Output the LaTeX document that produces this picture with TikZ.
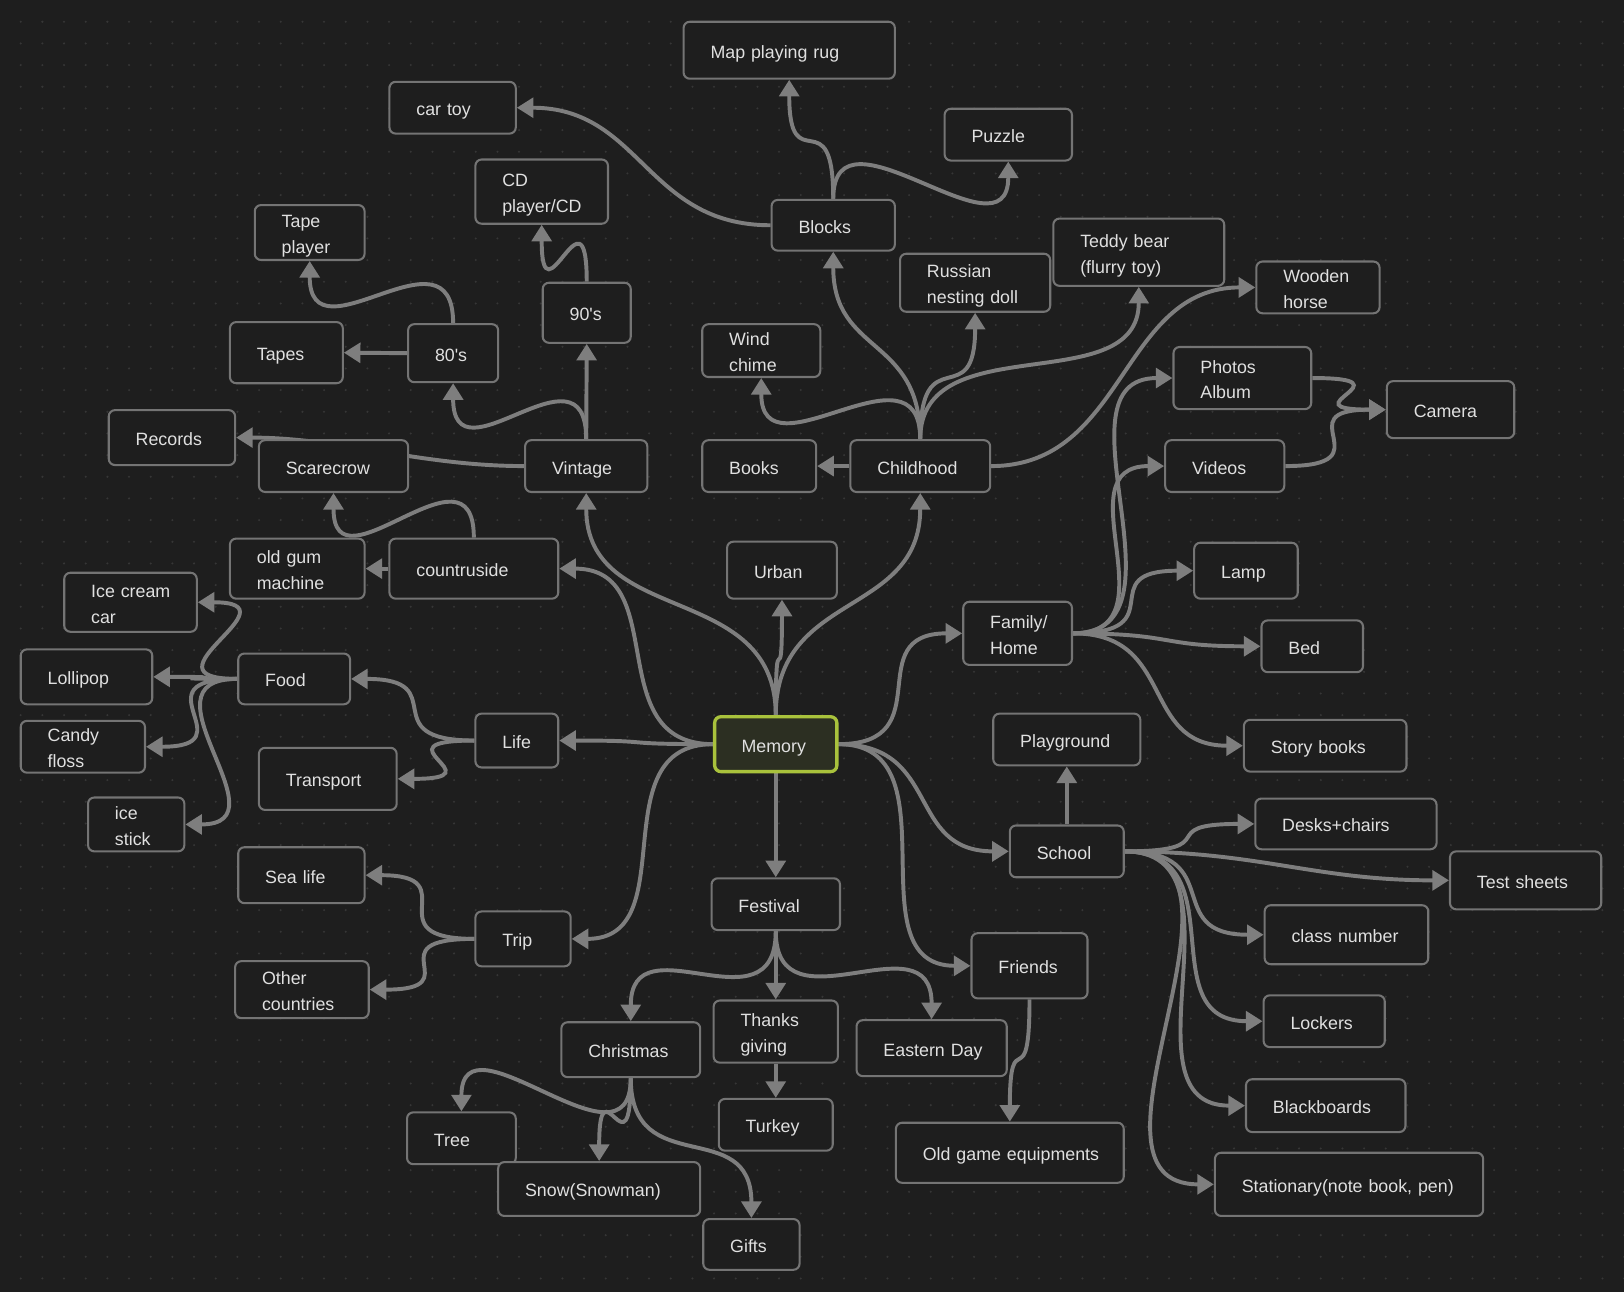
\documentclass[tikz,border=0pt]{standalone}
\usepackage{fontspec}
\setmainfont{Liberation Sans}[Ligatures=ResetAll]
\usetikzlibrary{arrows.meta}
\definecolor{bgc}{HTML}{1E1E1E}
\definecolor{dotc}{HTML}{363636}
\definecolor{boxc}{HTML}{747474}
\definecolor{edgec}{HTML}{7E7E7E}
\definecolor{txtc}{HTML}{E0E0E0}
\definecolor{memfill}{HTML}{2C2F22}
\definecolor{memdraw}{HTML}{A9C23C}
\pgfdeclarelayer{dots}
\pgfdeclarelayer{edges}
\pgfsetlayers{dots,edges,main}
\newcommand\mystrut{\rule[-2.4pt]{0pt}{12.5pt}}
\tikzset{
  box/.style={draw=boxc, fill=bgc, line width=1pt, rounded corners=3pt, text=txtc,
    align=left, inner xsep=13pt, inner ysep=0pt,
    font=\fontsize{8.6}{12.5}\selectfont,
    execute at begin node=\mystrut, execute at end node=\mystrut},
  e/.style={draw=edgec, line width=1.9pt, -{Triangle[length=8pt,width=9.5pt]}, distance=50pt},
}
\newlength\bxwl
\newlength\bxhl
\newcommand\bx[7][]{%
  \pgfmathsetlength\bxwl{(#5-#3)*0.5pt-26pt}%
  \pgfmathsetlength\bxhl{(#6-#4)*0.5pt}%
  \node[box,text width=\bxwl,minimum height=\bxhl,#1] (#2) at ({(#3+#5)/2},{(#4+#6)/2}) {#7};}
\hyphenpenalty=10000
\exhyphenpenalty=10000
\begin{document}
\begin{tikzpicture}[x=0.5pt,y=-0.5pt]
\useasboundingbox (0,0) rectangle (1568,1247);
\begin{pgfonlayer}{dots}
\fill[bgc] (0,0) rectangle (1568,1247);
\foreach \i in {0,...,74}{\foreach \j in {0,...,59}{\fill[dotc] ({20+20.92*\i},{21+20.92*\j}) circle (0.55pt);}}
\end{pgfonlayer}
% nodes
\bx{map}{660}{21}{864}{76}{Map~playing~rug}
\bx{cartoy}{376}{79}{498}{129}{car~toy}
\bx{puzzle}{912}{105}{1035}{155}{Puzzle}
\bx{cd}{459}{154}{587}{216}{CD\\player/CD}
\bx{blocks}{745}{193}{864}{242}{Blocks}
\bx{tapep}{246}{198}{352}{251}{Tape\\player}
\bx{teddy}{1017}{211}{1182}{276}{Teddy~bear\\(flurry~toy)}
\bx{russian}{869}{245}{1014}{301}{Russian\\nesting~doll}
\bx{wooden}{1213}{253}{1332}{302}{Wooden\\horse}
\bx{n90}{524}{273}{609}{331}{90\textquotesingle s}
\bx{n80}{394}{313}{481}{369}{80\textquotesingle s}
\bx{tapes}{222}{311}{331}{370}{Tapes}
\bx{wind}{678}{313}{792}{364}{Wind\\chime}
\bx{photos}{1133}{335}{1266}{395}{Photos\\Album}
\bx{camera}{1339}{368}{1462}{423}{Camera}
\bx{records}{105}{396}{227}{449}{Records}
\bx{scare}{250}{425}{394}{475}{Scarecrow}
\bx{vintage}{507}{425}{625}{475}{Vintage}
\bx{books}{678}{425}{788}{475}{Books}
\bx{child}{821}{425}{956}{475}{Childhood}
\bx{videos}{1125}{425}{1240}{475}{Videos}
\bx{gum}{222}{520}{352}{578}{old~gum\\machine}
\bx{country}{376}{520}{539}{578}{countruside}
\bx{urban}{702}{523}{808}{578}{Urban}
\bx{lamp}{1153}{524}{1253}{578}{Lamp}
\bx{icecream}{62}{553}{190}{610}{Ice~cream\\car}
\bx{family}{930}{581}{1035}{642}{Family/\\Home}
\bx{lolli}{20}{627}{147}{680}{Lollipop}
\bx{food}{230}{631}{338}{680}{Food}
\bx{bed}{1218}{599}{1316}{649}{Bed}
\bx{play}{959}{689}{1101}{739}{Playground}
\bx{life}{459}{689}{539}{741}{Life}
\bx[fill=memfill,draw=memdraw,line width=1.6pt]{mem}{690}{692}{808}{745}{Memory}
\bx{story}{1201}{695}{1358}{745}{Story~books}
\bx{candy}{20}{696}{140}{746}{Candy\\floss}
\bx{transport}{250}{722}{383}{782}{Transport}
\bx{icestick}{85}{770}{178}{822}{ice\\stick}
\bx{desks}{1212}{771}{1387}{820}{Desks+chairs}
\bx{school}{975}{797}{1085}{847}{School}
\bx{test}{1400}{822}{1546}{878}{Test~sheets}
\bx{sealife}{230}{818}{352}{872}{Sea~life}
\bx{festival}{687}{848}{811}{898}{Festival}
\bx{trip}{459}{880}{551}{933}{Trip}
\bx{classn}{1221}{874}{1379}{931}{class~number}
\bx{friends}{938}{901}{1050}{964}{Friends}
\bx{other}{227}{928}{356}{983}{Other\\countries}
\bx{thanks}{689}{966}{809}{1026}{Thanks\\giving}
\bx{lockers}{1220}{961}{1337}{1011}{Lockers}
\bx{eastern}{827}{985}{972}{1039}{Eastern~Day}
\bx{xmas}{542}{987}{676}{1040}{Christmas}
\bx{turkey}{694}{1061}{804}{1111}{Turkey}
\bx{black}{1203}{1042}{1357}{1093}{Blackboards}
\bx{tree}{393}{1074}{498}{1124}{Tree}
\bx{oldgame}{865}{1084}{1085}{1142}{Old~game~equipments}
\bx{station}{1173}{1113}{1432}{1174}{Stationary(note~book,~pen)}
\bx{snow}{481}{1122}{676}{1174}{Snow(Snowman)}
\bx{gifts}{679}{1177}{772}{1226}{Gifts}
% edges
\begin{pgfonlayer}{edges}
\draw[e] (mem.west) to[out=180,in=0] (life.east);
\draw[e,distance=55pt] (mem.west) to[out=180,in=0] (country.east);
\draw[e,distance=65pt] (mem.north) to[out=90,in=270] (vintage.south);
\draw[e,distance=55pt] (mem.west) to[out=180,in=0] (trip.east);
\draw[e] (mem.north) to[out=90,in=270] (urban.south);
\draw[e,distance=60pt] (mem.north) to[out=90,in=270] (child.south);
\draw[e] (mem.east) to[out=0,in=180] (family.west);
\draw[e] (mem.east) to[out=0,in=180] (school.west);
\draw[e,distance=58pt] (mem.east) to[out=0,in=180] (friends.west);
\draw[e] (mem.south) -- (festival.north);
\draw[e] (festival.south) to[out=270,in=90] (xmas.north);
\draw[e] (festival.south) -- (thanks.north);
\draw[e] (festival.south) to[out=270,in=90] (eastern.north);
\draw[e] (thanks.south) -- (turkey.north);
\draw[e] (xmas.south) to[out=270,in=90] (tree.north);
\draw[e] (xmas.south) to[out=270,in=90] (snow.north);
\draw[e] (xmas.south) to[out=270,in=90] (gifts.north);
\draw[e] (friends.south) to[out=270,in=90] (oldgame.north);
\draw[e] (school.north) -- (play.south);
\draw[e] (school.east) to[out=0,in=180] (desks.west);
\draw[e,distance=65pt] (school.east) to[out=0,in=180] (test.west);
\draw[e] (school.east) to[out=0,in=180] (classn.west);
\draw[e,distance=55pt] (school.east) to[out=0,in=180] (lockers.west);
\draw[e,distance=62pt] (school.east) to[out=0,in=180] (black.west);
\draw[e,distance=74pt] (school.east) to[out=0,in=180] (station.west);
\draw[e,distance=60pt] (family.east) to[out=0,in=180] (photos.west);
\draw[e] (family.east) to[out=0,in=180] (videos.west);
\draw[e] (family.east) to[out=0,in=180] (lamp.west);
\draw[e] (family.east) to[out=0,in=180] (bed.west);
\draw[e] (family.east) to[out=0,in=180] (story.west);
\draw[e] (photos.east) to[out=0,in=180] (camera.west);
\draw[e] (videos.east) to[out=0,in=180] (camera.west);
\draw[e] (child.west) -- (books.east);
\draw[e] (child.north) to[out=90,in=270] (blocks.south);
\draw[e] (child.north) to[out=90,in=270] (wind.south);
\draw[e] (child.north) to[out=90,in=270] (russian.south);
\draw[e,distance=55pt] (child.north) to[out=90,in=270] (teddy.south);
\draw[e,distance=65pt] (child.east) to[out=0,in=180] (wooden.west);
\draw[e] (blocks.north) to[out=90,in=270] (map.south);
\draw[e] (blocks.north) to[out=90,in=270] (puzzle.south);
\draw[e,distance=60pt] (blocks.west) to[out=180,in=0] (cartoy.east);
\draw[e] (vintage.north) -- (n90.south);
\draw[e] (vintage.north) to[out=90,in=270] (n80.south);
\draw[e] (vintage.west) to[out=180,in=0] (records.east);
\draw[e] (n90.north) to[out=90,in=270] (cd.south);
\draw[e] (n80.north) to[out=90,in=270] (tapep.south);
\draw[e] (n80.west) -- (tapes.east);
\draw[e] (country.west) -- (gum.east);
\draw[e] (country.north) to[out=90,in=270] (scare.south);
\draw[e] (life.west) to[out=180,in=0] (food.east);
\draw[e] (life.west) to[out=180,in=0] (transport.east);
\draw[e] (food.west) to[out=180,in=0] (icecream.east);
\draw[e] (food.west) to[out=180,in=0] (lolli.east);
\draw[e] (food.west) to[out=180,in=0] (candy.east);
\draw[e] (food.west) to[out=180,in=0] (icestick.east);
\draw[e] (trip.west) to[out=180,in=0] (sealife.east);
\draw[e] (trip.west) to[out=180,in=0] (other.east);
\end{pgfonlayer}
\end{tikzpicture}
\end{document}
